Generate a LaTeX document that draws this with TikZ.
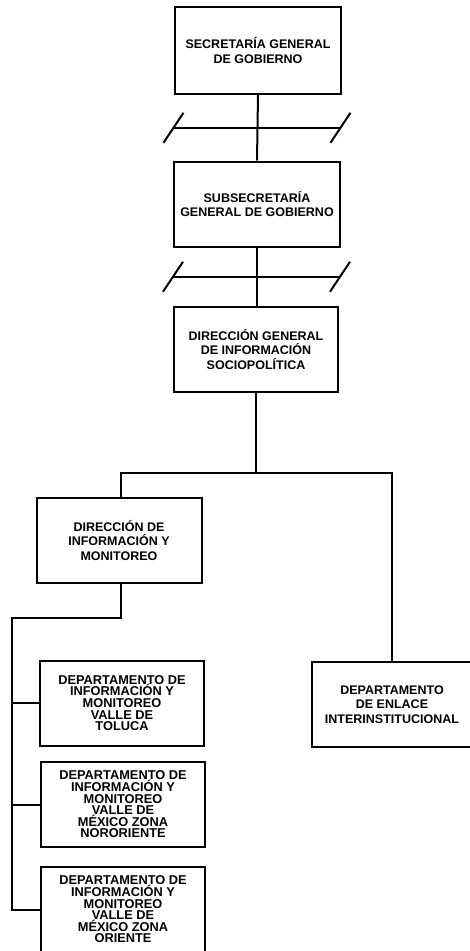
\documentclass[tikz,border=0pt]{standalone}
\usepackage{fontspec}
\setmainfont{Liberation Sans}
\usetikzlibrary{calc}

\begin{document}
\begin{tikzpicture}[x=1pt,y=-1pt,
  line width=2pt,
  unit/.style={draw, line width=2pt, minimum width=#1, minimum height=85pt,
    inner sep=0pt, align=center,
    font=\fontsize{12.5}{14.8}\selectfont\bfseries},
  unit/.default=166pt,
  dept/.style={unit=164pt, font=\fontsize{12.8}{11.6}\selectfont\bfseries},
  breakmark/.pic={
    \draw (-84,0) -- (83,0);
    \draw (-94,15) -- (-74,-15);
    \draw (73,15) -- (93,-15);
  }]
  \useasboundingbox (0,0) rectangle (469,951);

  % upper chain of command
  \node[unit, minimum height=87pt] (sg)  at (258,50.5)  {SECRETARÍA GENERAL\\DE GOBIERNO};
  \node[unit] (ssg) at (257,204)   {SUBSECRETARÍA\\GENERAL DE GOBIERNO};
  \node[unit=164pt] (dgis) at (256,349.5) {DIRECCIÓN GENERAL\\DE INFORMACIÓN\\SOCIOPOLÍTICA};

  % second level
  \node[unit=165pt] (dim) at (119,540.5) {DIRECCIÓN DE\\INFORMACIÓN Y\\MONITOREO};
  \node[unit=160pt] (enl) at (392,704.5) {DEPARTAMENTO\\DE ENLACE\\INTERINSTITUCIONAL};

  % departments under the information directorate
  \node[dept] (d1) at (122,703)   {DEPARTAMENTO DE\\INFORMACIÓN Y\\MONITOREO\\VALLE DE\\TOLUCA};
  \node[dept] (d2) at (123,804.5) {DEPARTAMENTO DE\\INFORMACIÓN Y\\MONITOREO\\VALLE DE\\MÉXICO ZONA\\NORORIENTE};
  \node[dept] (d3) at (123,909.5) {DEPARTAMENTO DE\\INFORMACIÓN Y\\MONITOREO\\VALLE DE\\MÉXICO ZONA\\ORIENTE};

  % vertical links with interruption marks
  \draw (sg.south) -- (ssg.north);
  \draw (ssg.south) -- (ssg.south |- dgis.north);
  \path ($(sg.south)!0.5!(ssg.north)$) pic {breakmark};
  \path ($(ssg.south)!0.5!(ssg.south |- dgis.north)$) pic {breakmark};

  % branch bus
  \coordinate (bus) at ($(dgis.south)+(0,80)$);
  \draw (dgis.south) -- (bus);
  \draw ($(dim.north)+(1.5,0)$) |- (bus) -| (enl.north);

  % spine for the departments
  \coordinate (spine) at (12,618);
  \draw ($(dim.south)+(1.5,0)$) |- (spine) |- (d3.west);
  \draw (d1.west) -- (d1.west -| spine);
  \draw (d2.west) -- (d2.west -| spine);
\end{tikzpicture}
\end{document}
